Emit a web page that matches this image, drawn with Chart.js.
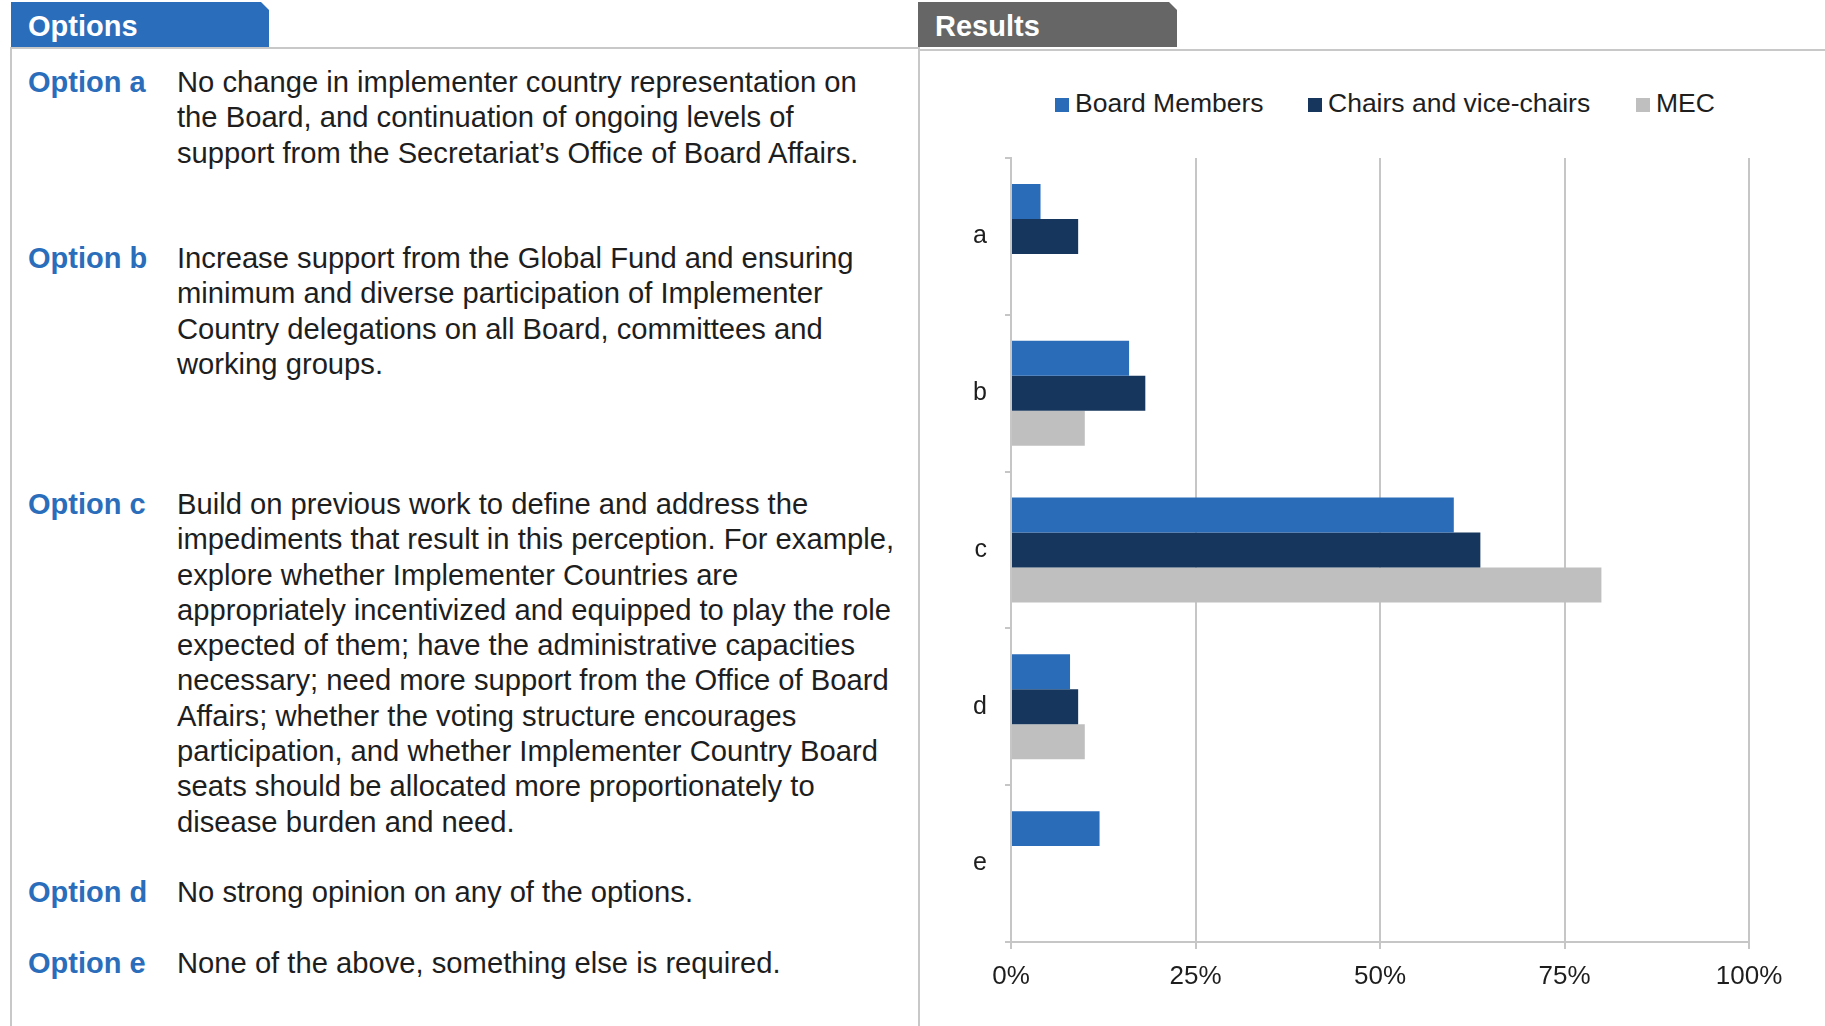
<!DOCTYPE html>
<html>
<head>
<meta charset="utf-8">
<script src="https://cdn.jsdelivr.net/npm/chart.js@4.4.1/dist/chart.umd.min.js"></script>
<style>
  html, body { margin: 0; padding: 0; background: #fff; }
  body { width: 1825px; height: 1026px; position: relative; overflow: hidden;
         font-family: "Liberation Sans", Arial, sans-serif; color: #1e1e1e; }
  .tab { position: absolute; top: 2px; height: 45px; color: #fff; font-weight: bold;
         font-size: 29px; line-height: 49px; box-sizing: border-box;
         clip-path: polygon(0 0, calc(100% - 8px) 0, 100% 8px, 100% 100%, 0 100%); }
  .line { position: absolute; background: #c8c8c8; }
  .opt { position: absolute; left: 28px; font-size: 29.2px; line-height: 35.3px; white-space: nowrap; }
  .opt .lbl { position: absolute; left: 0; top: 0; color: #2a6ebb; font-weight: bold; font-size: 29px; }
  .opt .txt { position: absolute; left: 149px; top: 0; }
  #legend { position: absolute; top: 86px; left: 1055px; height: 34px; font-size: 26.5px; white-space: nowrap; }
  #legend span.item { position: absolute; top: 0; line-height: 34px; }
  #legend span.box { display: inline-block; width: 14px; height: 14px; margin-right: 6px; vertical-align: 0px; }
  #chartBox { position: absolute; left: 920px; top: 125px; width: 905px; height: 901px; }
</style>
</head>
<body>

<div class="tab" style="left:11px; width:258px; background:#2a6ebb; padding-left:17px;">Options</div>
<div class="tab" style="left:918px; width:259px; background:#666666; padding-left:17px;">Results</div>

<div class="line" style="left:10px; top:47px; width:910px; height:2px;"></div>
<div class="line" style="left:10px; top:47px; width:2px; height:979px;"></div>
<div class="line" style="left:918px; top:49px; width:907px; height:2px;"></div>
<div class="line" style="left:918px; top:47px; width:2px; height:979px;"></div>

<div class="opt" style="top:65px;">
  <span class="lbl">Option a</span>
  <span class="txt">No change in implementer country representation on<br>the Board, and continuation of ongoing levels of<br>support from the Secretariat’s Office of Board Affairs.</span>
</div>
<div class="opt" style="top:241px;">
  <span class="lbl">Option b</span>
  <span class="txt">Increase support from the Global Fund and ensuring<br>minimum and diverse participation of Implementer<br>Country delegations on all Board, committees and<br>working groups.</span>
</div>
<div class="opt" style="top:487px;">
  <span class="lbl">Option c</span>
  <span class="txt">Build on previous work to define and address the<br>impediments that result in this perception. For example,<br>explore whether Implementer Countries are<br>appropriately incentivized and equipped to play the role<br>expected of them; have the administrative capacities<br>necessary; need more support from the Office of Board<br>Affairs; whether the voting structure encourages<br>participation, and whether Implementer Country Board<br>seats should be allocated more proportionately to<br>disease burden and need.</span>
</div>
<div class="opt" style="top:875px;">
  <span class="lbl">Option d</span>
  <span class="txt">No strong opinion on any of the options.</span>
</div>
<div class="opt" style="top:946px;">
  <span class="lbl">Option e</span>
  <span class="txt">None of the above, something else is required.</span>
</div>

<div id="legend"></div>
<div id="chartBox"><canvas id="results"></canvas></div>

<script>
// categories (options) and share of respondents in %, per group
const categories = ['a', 'b', 'c', 'd', 'e'];
const seriesNames = ['Board Members', 'Chairs and vice-chairs', 'MEC'];
const boardMembers = [4, 16, 60, 8, 12];
const chairs = [9.1, 18.2, 63.6, 9.1, null];
const mec = [null, 10, 80, 10, null];
const xTicks = [0, 25, 50, 75, 100];

const colors = ['#2b6cb9', '#17365d', '#bfbfbf'];
const gridColor = '#c6c6c6';

// legend drawn as html so spacing matches the slide
const legendX = [0, 253, 581];
const legendEl = document.getElementById('legend');
seriesNames.forEach((name, i) => {
  legendEl.innerHTML += `<span class="item" style="left:${legendX[i]}px"><span class="box" style="background:${colors[i]}"></span>${name}</span>`;
});

const ctx = document.getElementById('results').getContext('2d');
new Chart(ctx, {
  type: 'bar',
  data: {
    labels: categories,
    datasets: [
      { label: seriesNames[0], data: boardMembers, backgroundColor: colors[0] },
      { label: seriesNames[1], data: chairs, backgroundColor: colors[1] },
      { label: seriesNames[2], data: mec, backgroundColor: colors[2] }
    ]
  },
  options: {
    indexAxis: 'y',
    responsive: true,
    maintainAspectRatio: false,
    animation: false,
    categoryPercentage: 0.669,
    barPercentage: 1.0,
    layout: { padding: { top: 0, right: 76, left: 0, bottom: 0 } },
    plugins: {
      legend: { display: false },
      tooltip: { enabled: false }
    },
    scales: {
      x: {
        min: 0,
        max: 100,
        afterFit: (s) => { s.height = 84; },
        afterBuildTicks: (s) => { s.ticks = xTicks.map(v => ({ value: v })); },
        ticks: {
          callback: (v) => v + '%',
          color: '#1e1e1e',
          font: { family: 'Liberation Sans', size: 26 },
          padding: 12,
          maxRotation: 0
        },
        grid: { color: gridColor, lineWidth: 2, tickLength: 7 },
        border: { color: gridColor, width: 2 }
      },
      y: {
        afterFit: (s) => { s.width = 91; },
        ticks: {
          color: '#1e1e1e',
          font: { family: 'Liberation Sans', size: 25 },
          padding: 18
        },
        grid: { drawOnChartArea: false, color: gridColor, lineWidth: 2, tickLength: 6 },
        border: { color: gridColor, width: 2 }
      }
    }
  }
});
</script>
</body>
</html>
